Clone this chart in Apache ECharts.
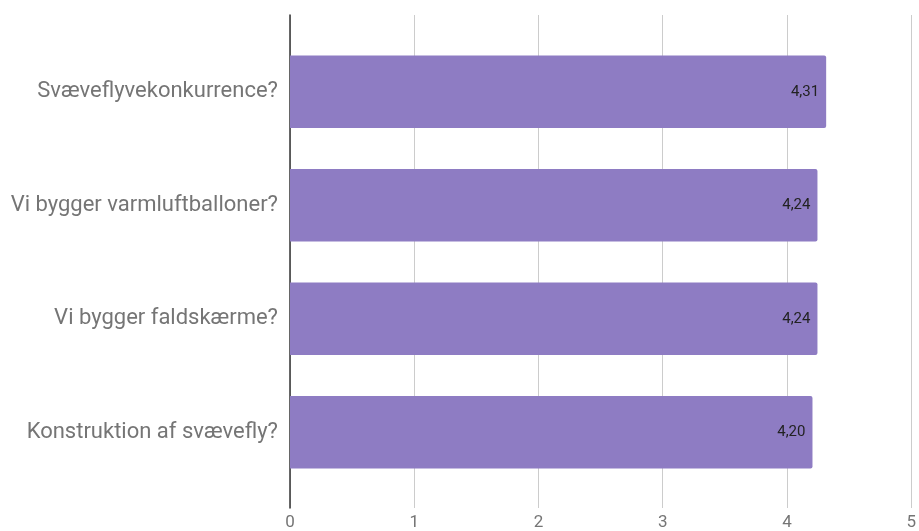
<!DOCTYPE html>
<html>
<head>
<meta charset="utf-8">
<script src="https://cdn.jsdelivr.net/npm/echarts@6/dist/echarts.min.js"></script>
<style>html,body{margin:0;padding:0;background:#fff;}#c{width:919px;height:531px;}</style>
</head>
<body>
<div id="c"></div>
<script>
var categories = ["Svæveflyvekonkurrence?", "Vi bygger varmluftballoner?", "Vi bygger faldskærme?", "Konstruktion af svævefly?"];
var values = [4.31, 4.24, 4.24, 4.20];
var axisMin = 0, axisMax = 5, axisInterval = 1;

var chart = echarts.init(document.getElementById('c'));
chart.setOption({
  animation: false,
  backgroundColor: '#ffffff',
  textStyle: { fontFamily: 'Roboto' },
  grid: [
    { left: 290, right: 7, top: 15, bottom: 23 },
    { left: 290, right: 7, top: 35, bottom: 42 }
  ],
  xAxis: [
    {
      gridIndex: 0, type: 'value', min: axisMin, max: axisMax, interval: axisInterval,
      axisLine: { show: false }, axisTick: { show: false },
      splitLine: { show: true, lineStyle: { color: '#cccccc', width: 1 } },
      axisLabel: { color: '#757575', fontSize: 17, margin: 6, fontFamily: 'Roboto' }
    },
    {
      gridIndex: 1, type: 'value', min: axisMin, max: axisMax, show: false
    }
  ],
  yAxis: [
    {
      gridIndex: 0, type: 'value', min: 0, max: 1,
      axisLine: { show: true, lineStyle: { color: '#333333', width: 1.5 } },
      axisTick: { show: false }, axisLabel: { show: false }, splitLine: { show: false }
    },
    {
      gridIndex: 1, type: 'category', data: categories, inverse: true,
      axisLine: { show: false }, axisTick: { show: false }, splitLine: { show: false },
      axisLabel: { color: '#757575', fontSize: 22, margin: 12, fontFamily: 'Roboto' }
    }
  ],
  series: [{
    type: 'bar', xAxisIndex: 1, yAxisIndex: 1, data: values,
    barCategoryGap: '36%',
    itemStyle: { color: '#8e7cc3', borderRadius: [0, 2, 2, 0] },
    label: {
      show: true, position: 'insideRight', distance: 7,
      color: '#222222', fontSize: 15, fontFamily: 'Roboto',
      formatter: function (p) { return p.value.toFixed(2).replace('.', ','); }
    }
  }]
});
</script>
</body>
</html>
